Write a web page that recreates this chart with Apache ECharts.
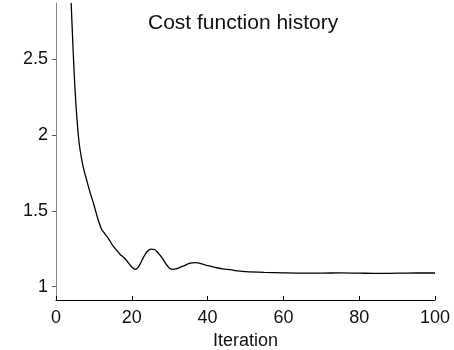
<!DOCTYPE html>
<html>
<head>
<meta charset="utf-8">
<script src="https://cdn.jsdelivr.net/npm/echarts@6/dist/echarts.min.js"></script>
<style>
  html, body { margin: 0; padding: 0; background: #fff; }
  #chart { width: 454px; height: 350px; }
</style>
</head>
<body>
<div id="chart"></div>
<script>
// Optimisation run: cost value recorded at each iteration
const iterations = [4, 5, 6, 7, 8, 9, 10, 11, 12, 13, 14, 15, 16, 17, 18, 19, 20, 21, 22, 23, 24, 25, 26, 27, 28, 29, 30, 31, 32, 33, 34, 35, 36, 37, 38, 39, 40, 42, 44, 46, 48, 50, 55, 60, 65, 70, 75, 80, 85, 90, 95, 100];
const costValues = [2.87, 2.31, 1.97, 1.81, 1.71, 1.62, 1.54, 1.45, 1.38, 1.345, 1.31, 1.27, 1.24, 1.21, 1.19, 1.16, 1.13, 1.114, 1.14, 1.19, 1.23, 1.248, 1.245, 1.22, 1.19, 1.15, 1.12, 1.114, 1.12, 1.13, 1.14, 1.152, 1.157, 1.158, 1.154, 1.146, 1.138, 1.127, 1.117, 1.112, 1.104, 1.099, 1.094, 1.091, 1.089, 1.089, 1.091, 1.089, 1.087, 1.089, 1.090, 1.090];
const yTickValues = [1, 1.5, 2, 2.5];
const xTickLabels = [0, 20, 40, 60, 80, 100];

const FONT = 'Liberation Sans, Arial, Helvetica, sans-serif';
const chart = echarts.init(document.getElementById('chart'), null, { renderer: 'canvas' });

chart.setOption({
  animation: false,
  backgroundColor: '#fff',
  title: {
    text: 'Cost function history',
    left: 148,
    top: 13,
    padding: 0,
    textStyle: { fontFamily: FONT, fontSize: 21, fontWeight: 'normal', color: '#111' }
  },
  grid: { left: 56, right: 19, top: 3, bottom: 50, containLabel: false, outerBoundsMode: 'none' },
  xAxis: {
    type: 'value',
    min: 0,
    max: 100,
    interval: 20,
    name: 'Iteration',
    nameLocation: 'middle',
    nameGap: 28,
    nameTextStyle: { fontFamily: FONT, fontSize: 18, color: '#111' },
    axisLine: { show: true, lineStyle: { color: '#000', width: 1 } },
    axisTick: { show: true, inside: true, length: 4, lineStyle: { color: '#000' } },
    axisLabel: {
      fontFamily: FONT, fontSize: 18, color: '#111', margin: 9,
      customValues: xTickLabels
    },
    splitLine: { show: false }
  },
  yAxis: {
    type: 'value',
    min: 0.912,
    max: 2.87,
    axisLine: { show: true, lineStyle: { color: '#888', width: 1 } },
    axisTick: { show: true, inside: false, length: 4, lineStyle: { color: '#555' }, customValues: yTickValues },
    axisLabel: {
      fontFamily: FONT, fontSize: 18, color: '#111', margin: 8,
      customValues: yTickValues
    },
    splitLine: { show: false }
  },
  series: [{
    type: 'line',
    data: iterations.map((it, i) => [it, costValues[i]]),
    showSymbol: false,
    smooth: 0.3,
    clip: true,
    lineStyle: { color: '#000', width: 1.3 }
  }]
});
</script>
</body>
</html>
